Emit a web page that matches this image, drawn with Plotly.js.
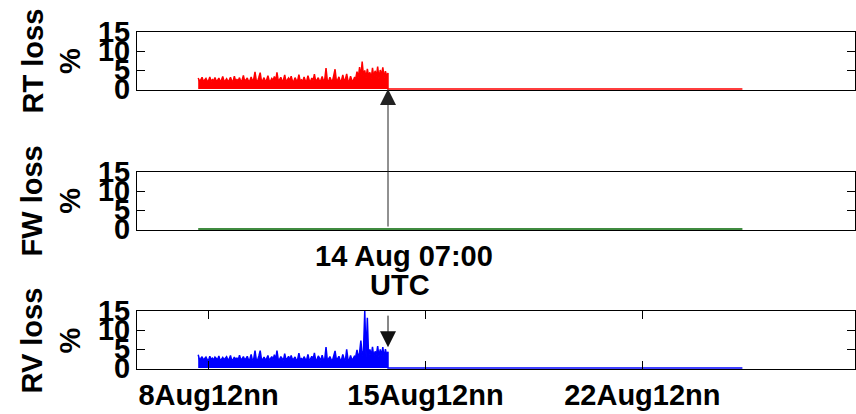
<!DOCTYPE html>
<html>
<head>
<meta charset="utf-8">
<script src="https://cdn.plot.ly/plotly-3.0.1.min.js"></script>
<style>
  html, body { margin: 0; padding: 0; background: #fff; }
  #chart { width: 856px; height: 414px; }
</style>
</head>
<body>
<div id="chart"></div>
<script>
// ---- data (hourly samples starting 8 Aug 04:00 UTC) ----
const sampleStartUTC = [2011, 7, 8, 4, 0];   // year, month(0-based), day, hour, minute
const sampleStepHours = 1;

const rtLoss = [
  2.9, 2.1, 2.4, 3.1, 2.0, 2.3, 2.8, 2.1, 2.2, 3.2, 2.0, 2.5,
  2.2, 3.0, 2.1, 2.3, 2.9, 2.0, 2.4, 3.3, 2.1, 2.2, 2.7, 2.0,
  2.3, 3.1, 2.2, 2.0, 3.4, 2.1, 2.5, 2.2, 3.0, 2.0, 2.3, 3.6,
  2.1, 2.4, 2.9, 2.0, 2.2, 3.2, 2.1, 2.6, 4.5, 2.2, 2.0, 3.1,
  4.3, 2.1, 2.3, 3.0, 2.0, 2.4, 3.5, 2.2, 2.1, 2.8, 2.3, 3.3,
  2.0, 4.4, 2.2, 2.5, 3.1, 2.1, 2.3, 3.7, 2.0, 2.4, 2.9, 2.2,
  3.4, 2.1, 2.0, 3.0, 2.3, 2.2, 3.8, 2.1, 2.4, 2.0, 3.2, 2.2,
  2.1, 3.5, 2.3, 2.0, 2.9, 2.2, 3.9, 2.1, 2.4, 3.0, 2.0, 2.3,
  3.3, 2.1, 2.5, 5.5, 2.2, 2.0, 3.1, 2.3, 2.1, 3.6, 5.2, 2.2,
  2.4, 3.2, 2.0, 2.3, 3.7, 2.1, 2.6, 4.0, 2.2, 2.0, 3.4, 2.3,
  2.1, 3.0,
  2.8, 4.6, 3.0, 5.8, 3.2, 7.2, 3.5, 4.9, 2.9, 5.3, 3.4, 4.4,
  2.7, 5.6, 3.1, 4.8, 3.3, 5.9, 2.8, 5.0, 3.6, 5.7, 3.0, 4.7,
  3.4, 4.2
];

const rvLoss = [
  3.5, 2.2, 2.5, 3.0, 2.1, 2.4, 2.9, 2.2, 2.0, 3.1, 2.3, 2.6,
  2.1, 2.9, 2.4, 2.2, 3.2, 2.0, 2.3, 2.8, 2.2, 2.5, 3.0, 2.1,
  2.4, 3.3, 2.0, 2.2, 2.9, 2.3, 2.6, 2.1, 3.4, 2.2, 2.4, 3.0,
  2.2, 2.5, 3.1, 2.1, 2.3, 3.6, 2.0, 2.4, 4.6, 2.2, 2.1, 3.2,
  4.6, 2.3, 2.2, 2.9, 2.1, 2.5, 3.3, 2.0, 2.4, 3.0, 2.2, 3.5,
  2.1, 4.6, 2.3, 2.2, 3.0, 2.4, 2.0, 3.8, 2.2, 2.5, 3.1, 2.1,
  3.3, 2.2, 2.4, 2.9, 2.0, 2.3, 3.9, 2.2, 2.5, 2.1, 3.0, 2.3,
  2.2, 3.6, 2.0, 2.4, 3.1, 2.3, 4.0, 2.1, 2.2, 3.2, 2.4, 2.0,
  3.4, 2.2, 2.3, 5.5, 2.1, 2.4, 3.0, 2.2, 2.0, 3.7, 4.5, 2.3,
  2.5, 3.1, 2.1, 2.2, 3.6, 2.4, 2.0, 4.9, 2.3, 2.1, 3.3, 2.2,
  2.4, 3.1,
  3.0, 4.8, 2.6, 4.1, 7.2, 3.3, 4.5, 15.0, 3.0, 13.2, 2.8, 4.9,
  3.2, 5.6, 2.9, 4.4, 3.5, 5.8, 3.0, 4.9, 3.3, 5.5, 2.7, 5.0,
  3.4, 4.3
];

// after the event the losses drop to zero until the end of the record
const tailTimes = ['2011-08-14 07:00', '2011-08-25 17:30'];
const tailLoss  = [0, 0];

// forward path: no loss over the whole record
const fwTimes = ['2011-08-08 04:00', '2011-08-25 17:30'];
const fwLoss  = [0, 0];

const tickTimes  = ['2011-08-08 12:00', '2011-08-15 12:00', '2011-08-22 12:00'];
const tickLabels = ['8Aug12nn', '15Aug12nn', '22Aug12nn'];
const eventTime  = '2011-08-14 07:00';
const eventLabel1 = '14 Aug 07:00';
const eventLabel2 = 'UTC';
const xRange = ['2011-08-06 04:36', '2011-08-29 08:42'];

// ---- build sample times ----
function fmt(d) {
  const p = n => String(n).padStart(2, '0');
  return d.getUTCFullYear() + '-' + p(d.getUTCMonth() + 1) + '-' + p(d.getUTCDate()) +
         ' ' + p(d.getUTCHours()) + ':' + p(d.getUTCMinutes());
}
const t0 = Date.UTC(...sampleStartUTC);
const sampleTimes = rtLoss.map((_, i) => fmt(new Date(t0 + i * sampleStepHours * 3600000)));

const FONT = 'Liberation Sans, Arial, Helvetica, sans-serif';
const bigFont = { family: FONT, size: 29, color: '#000', weight: 'bold' };

const traces = [
  { x: sampleTimes.concat(tailTimes), y: rtLoss.concat(tailLoss),
    xaxis: 'x', yaxis: 'y', type: 'scatter', mode: 'lines',
    line: { color: '#ff0000', width: 1.5 }, fill: 'tozeroy', fillcolor: '#ff0000',
    hoverinfo: 'skip' },
  { x: fwTimes, y: fwLoss, xaxis: 'x2', yaxis: 'y2', type: 'scatter', mode: 'lines',
    line: { color: '#006400', width: 1.5 }, hoverinfo: 'skip' },
  { x: sampleTimes.concat(tailTimes), y: rvLoss.concat(tailLoss),
    xaxis: 'x3', yaxis: 'y3', type: 'scatter', mode: 'lines',
    line: { color: '#0000ff', width: 1.5 }, fill: 'tozeroy', fillcolor: '#0000ff',
    hoverinfo: 'skip' }
];

const yCommon = {
  range: [-0.25, 15], tickvals: [0, 5, 10, 15], ticktext: ['0', '5', '10', '15'],
  ticks: 'inside', ticklen: 8, tickwidth: 1, tickcolor: '#000',
  showline: true, linecolor: '#000', linewidth: 1, mirror: 'ticks',
  showgrid: false, zeroline: false, tickfont: bigFont, fixedrange: true
};
const xCommon = {
  type: 'date', range: xRange, showline: true, linecolor: '#000', linewidth: 1,
  showgrid: false, zeroline: false, fixedrange: true
};

const layout = {
  width: 856, height: 414,
  margin: { l: 137, r: 1, t: 32, b: 45 },
  paper_bgcolor: '#fff', plot_bgcolor: '#fff',
  showlegend: false,
  xaxis:  Object.assign({}, xCommon, { anchor: 'y',  mirror: true, ticks: '', showticklabels: false }),
  xaxis2: Object.assign({}, xCommon, { anchor: 'y2', mirror: true, ticks: '', showticklabels: false, matches: 'x' }),
  xaxis3: Object.assign({}, xCommon, { anchor: 'y3', mirror: 'ticks', ticks: 'inside', ticklen: 8,
            tickcolor: '#000', tickvals: tickTimes, ticktext: tickLabels, tickfont: bigFont, matches: 'x' }),
  yaxis:  Object.assign({}, yCommon, { domain: [0.8279, 1], anchor: 'x' }),
  yaxis2: Object.assign({}, yCommon, { domain: [0.4125, 0.5846], anchor: 'x2' }),
  yaxis3: Object.assign({}, yCommon, { domain: [0, 0.1721], anchor: 'x3' }),
  annotations: [
    { xref: 'x', yref: 'y', x: eventTime, y: 0, ax: 0, ay: 139, axref: 'pixel', ayref: 'pixel',
      text: '', showarrow: true, arrowhead: 2, arrowsize: 3.2, arrowwidth: 1, arrowcolor: '#222' },
    { xref: 'x3', yref: 'y3', x: eventTime, y: 5.5, ax: 0, ay: -33, axref: 'pixel', ayref: 'pixel',
      text: '', showarrow: true, arrowhead: 2, arrowsize: 3.2, arrowwidth: 1, arrowcolor: '#111' },
    { xref: 'paper', yref: 'paper', x: 0.3719, y: 0.3353, xanchor: 'center', yanchor: 'middle',
      text: eventLabel1, showarrow: false, font: bigFont },
    { xref: 'paper', yref: 'paper', x: 0.3663, y: 0.2507, xanchor: 'center', yanchor: 'middle',
      text: eventLabel2, showarrow: false, font: bigFont },
    { xref: 'paper', yref: 'paper', x: -0.1191, y: 0.914, xanchor: 'center', yanchor: 'middle',
      text: 'RT loss<br>%', textangle: -90, showarrow: false, font: bigFont },
    { xref: 'paper', yref: 'paper', x: -0.1191, y: 0.4985, xanchor: 'center', yanchor: 'middle',
      text: 'FW loss<br>%', textangle: -90, showarrow: false, font: bigFont },
    { xref: 'paper', yref: 'paper', x: -0.1191, y: 0.086, xanchor: 'center', yanchor: 'middle',
      text: 'RV loss<br>%', textangle: -90, showarrow: false, font: bigFont }
  ]
};

Plotly.newPlot('chart', traces, layout, { displayModeBar: false, staticPlot: true });
</script>
</body>
</html>
